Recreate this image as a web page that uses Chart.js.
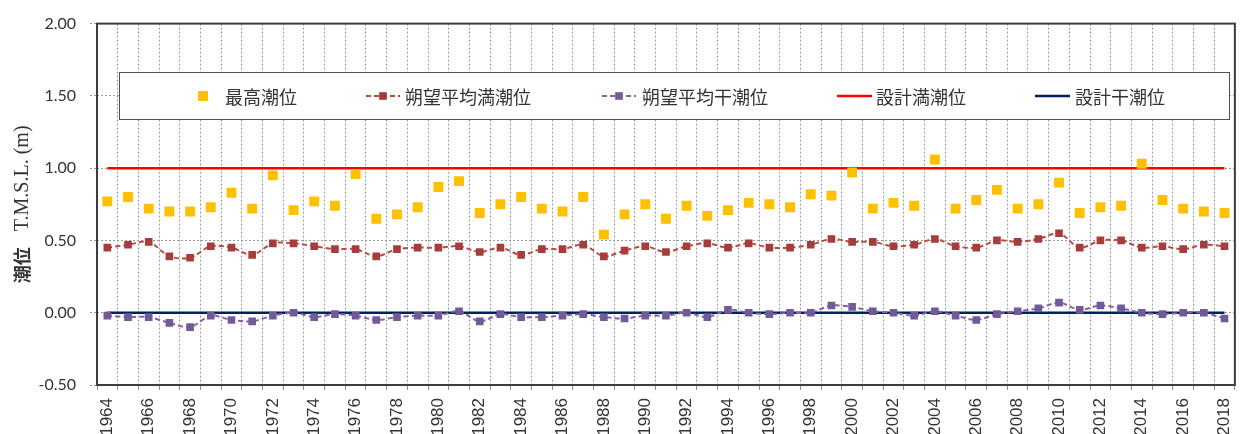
<!DOCTYPE html>
<html lang="ja">
<head>
<meta charset="utf-8">
<title>潮位の経年変化</title>
<script src="https://cdn.jsdelivr.net/npm/chart.js@4.4.0/dist/chart.umd.min.js"></script>
<style>
  html, body { margin: 0; padding: 0; background: #fff; }
  #wrap { position: relative; width: 1253px; height: 434px; }
</style>
</head>
<body>
<div id="wrap"><canvas id="tideChart"></canvas></div>
<script>
// 年（横軸カテゴリ）
const years = [
  '1964','1965','1966','1967','1968','1969','1970','1971','1972','1973',
  '1974','1975','1976','1977','1978','1979','1980','1981','1982','1983',
  '1984','1985','1986','1987','1988','1989','1990','1991','1992','1993',
  '1994','1995','1996','1997','1998','1999','2000','2001','2002','2003',
  '2004','2005','2006','2007','2008','2009','2010','2011','2012','2013',
  '2014','2015','2016','2017','2018'
];

// 最高潮位 (m)
const highestTide = [
  0.77, 0.80, 0.72, 0.70, 0.70, 0.73, 0.83, 0.72, 0.95, 0.71,
  0.77, 0.74, 0.96, 0.65, 0.68, 0.73, 0.87, 0.91, 0.69, 0.75,
  0.80, 0.72, 0.70, 0.80, 0.54, 0.68, 0.75, 0.65, 0.74, 0.67,
  0.71, 0.76, 0.75, 0.73, 0.82, 0.81, 0.97, 0.72, 0.76, 0.74,
  1.06, 0.72, 0.78, 0.85, 0.72, 0.75, 0.90, 0.69, 0.73, 0.74,
  1.03, 0.78, 0.72, 0.70, 0.69
];

// 朔望平均満潮位 (m)
const meanHighWater = [
  0.45, 0.47, 0.49, 0.39, 0.38, 0.46, 0.45, 0.40, 0.48, 0.48,
  0.46, 0.44, 0.44, 0.39, 0.44, 0.45, 0.45, 0.46, 0.42, 0.45,
  0.40, 0.44, 0.44, 0.47, 0.39, 0.43, 0.46, 0.42, 0.46, 0.48,
  0.45, 0.48, 0.45, 0.45, 0.47, 0.51, 0.49, 0.49, 0.46, 0.47,
  0.51, 0.46, 0.45, 0.50, 0.49, 0.51, 0.55, 0.45, 0.50, 0.50,
  0.45, 0.46, 0.44, 0.47, 0.46
];

// 朔望平均干潮位 (m)
const meanLowWater = [
  -0.02, -0.03, -0.03, -0.07, -0.10, -0.02, -0.05, -0.06, -0.02, 0.00,
  -0.03, -0.01, -0.02, -0.05, -0.03, -0.02, -0.02, 0.01, -0.06, -0.01,
  -0.03, -0.03, -0.02, -0.01, -0.03, -0.04, -0.02, -0.02, 0.00, -0.03,
  0.02, 0.00, -0.01, 0.00, 0.00, 0.05, 0.04, 0.01, 0.00, -0.02,
  0.01, -0.02, -0.05, -0.01, 0.01, 0.03, 0.07, 0.02, 0.05, 0.03,
  0.00, -0.01, 0.00, 0.00, -0.04
];

// 設計潮位 (m)
const designHighLevel = 1.00;
const designLowLevel = 0.00;

// 縦軸目盛
const yMin = -0.5;
const yMax = 2.0;
const yStep = 0.5;

const gridColor = '#9a9a9a';
const textColor = '#333333';

// 凡例・枠線・縦軸タイトル
const decorations = {
  id: 'decorations',
  afterDatasetsDraw(chart) {
    const { ctx, chartArea: a } = chart;
    ctx.save();
    ctx.strokeStyle = '#3c3c3c';
    ctx.lineWidth = 2;
    ctx.strokeRect(a.left, a.top, a.right - a.left, a.bottom - a.top);
    ctx.restore();
  },
  afterDraw(chart) {
    const { ctx, chartArea: a } = chart;
    const ds = chart.data.datasets;

    // legend box
    const box = { x: 119.5, y: 72.5, w: 1110, h: 47 };
    ctx.save();
    ctx.fillStyle = '#ffffff';
    ctx.fillRect(box.x, box.y, box.w, box.h);
    ctx.strokeStyle = '#505050';
    ctx.lineWidth = 1;
    ctx.strokeRect(box.x, box.y, box.w, box.h);

    const cy = box.y + box.h / 2;
    const items = [
      { i: 0, x1: 193, x2: 213, tx: 225 },
      { i: 1, x1: 366, x2: 400, tx: 405 },
      { i: 2, x1: 602, x2: 636, tx: 642 },
      { i: 3, x1: 837, x2: 872, tx: 876 },
      { i: 4, x1: 1035, x2: 1070, tx: 1075 }
    ];
    items.forEach(it => {
      const d = ds[it.i];
      if (d.showLine !== false) {
        ctx.save();
        ctx.strokeStyle = d.borderColor;
        ctx.lineWidth = d.borderWidth;
        ctx.setLineDash(d.borderDash || []);
        ctx.beginPath();
        ctx.moveTo(it.x1, cy);
        ctx.lineTo(it.x2, cy);
        ctx.stroke();
        ctx.restore();
      }
      if (d.pointRadius > 0) {
        const s = d.pointRadius * Math.SQRT2;
        ctx.fillStyle = d.pointBackgroundColor;
        ctx.fillRect((it.x1 + it.x2) / 2 - s / 2, cy - s / 2, s, s);
      }
      ctx.fillStyle = textColor;
      ctx.font = '18px "Noto Sans CJK JP"';
      ctx.textAlign = 'left';
      ctx.textBaseline = 'middle';
      ctx.fillText(d.label, it.tx, cy + 1);
    });
    ctx.restore();

    // y axis title: 潮位 (bold) + T.M.S.L. (m) (serif)
    ctx.save();
    ctx.translate(22, (a.top + a.bottom) / 2);
    ctx.rotate(-Math.PI / 2);
    ctx.fillStyle = textColor;
    ctx.textBaseline = 'middle';
    ctx.textAlign = 'left';
    const part1 = '潮位';
    const part2 = 'T.M.S.L. (m)';
    const gap = 16;
    const f1 = 'bold 18px "Noto Sans CJK JP"';
    const f2 = '20px "Liberation Serif"';
    ctx.font = f1;
    const w1 = ctx.measureText(part1).width;
    ctx.font = f2;
    const w2 = ctx.measureText(part2).width;
    const x0 = -(w1 + gap + w2) / 2;
    ctx.font = f1;
    ctx.fillText(part1, x0, 0);
    ctx.font = f2;
    ctx.fillText(part2, x0 + w1 + gap, 1);
    ctx.restore();
  }
};

const ctx = document.getElementById('tideChart').getContext('2d');
new Chart(ctx, {
  type: 'line',
  data: {
    labels: years,
    datasets: [
      {
        label: '最高潮位',
        data: highestTide,
        showLine: false,
        pointStyle: 'rect',
        pointRadius: 7,
        pointBorderWidth: 0,
        pointBackgroundColor: '#FFC000',
        pointBorderColor: '#FFC000',
        borderColor: '#FFC000',
        backgroundColor: '#FFC000'
      },
      {
        label: '朔望平均満潮位',
        data: meanHighWater,
        borderColor: '#B84A47',
        borderWidth: 2,
        borderDash: [5, 3],
        tension: 0.3,
        pointStyle: 'rect',
        pointRadius: 5.4,
        pointBorderWidth: 0,
        pointBackgroundColor: '#A53D3B',
        pointBorderColor: '#A53D3B'
      },
      {
        label: '朔望平均干潮位',
        data: meanLowWater,
        borderColor: '#8064A2',
        borderWidth: 2,
        borderDash: [5, 3],
        tension: 0.3,
        pointStyle: 'rect',
        pointRadius: 5.4,
        pointBorderWidth: 0,
        pointBackgroundColor: '#725A98',
        pointBorderColor: '#725A98'
      },
      {
        label: '設計満潮位',
        data: [{ x: years[0], y: designHighLevel }, { x: years[years.length - 1], y: designHighLevel }],
        borderColor: '#FF0000',
        borderWidth: 2.5,
        pointRadius: 0
      },
      {
        label: '設計干潮位',
        data: [{ x: years[0], y: designLowLevel }, { x: years[years.length - 1], y: designLowLevel }],
        borderColor: '#002060',
        borderWidth: 2.5,
        pointRadius: 0
      }
    ]
  },
  options: {
    responsive: true,
    maintainAspectRatio: false,
    animation: false,
    layout: { padding: { top: 18, right: 8, left: 0, bottom: 0 } },
    plugins: {
      legend: { display: false },
      tooltip: { enabled: false }
    },
    scales: {
      x: {
        type: 'category',
        offset: true,
        grid: {
          offset: true,
          color: gridColor,
          lineWidth: 1,
          tickLength: 5,
          tickColor: '#8a8a8a',
          tickBorderDash: []
        },
        border: { display: false, dash: [2, 2] },
        ticks: {
          autoSkip: false,
          minRotation: 90,
          maxRotation: 90,
          padding: 8,
          color: textColor,
          font: { family: '"Liberation Sans", Arial, sans-serif', size: 17 },
          callback(value, index) {
            return index % 2 === 0 ? this.getLabelForValue(value) : '';
          }
        },
        afterFit(scale) { scale.height = 49; }
      },
      y: {
        min: yMin,
        max: yMax,
        grid: {
          color: gridColor,
          lineWidth: 1,
          tickLength: 7,
          tickColor: gridColor,
          tickBorderDash: [2, 2]
        },
        border: { display: false, dash: [2, 2] },
        ticks: {
          stepSize: yStep,
          padding: 14,
          color: textColor,
          font: { family: 'Lato, "Liberation Sans", sans-serif', size: 16 },
          callback: v => v.toFixed(2)
        },
        afterFit(scale) { scale.width = 97; }
      }
    }
  },
  plugins: [decorations]
});
</script>
</body>
</html>
